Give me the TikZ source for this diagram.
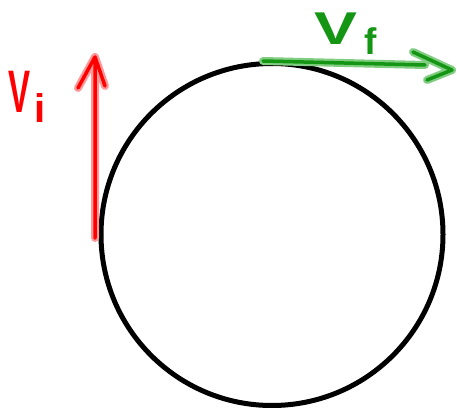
\documentclass[tikz,border=0pt]{standalone}
\usepackage{fontspec}
\setmainfont{Liberation Sans}
\begin{document}
\begin{tikzpicture}[x=1pt,y=-1pt,
  halo/.style={line width=8, line cap=round, line join=round},
  stroke/.style={line width=3.5, line cap=round, line join=round},
  lbl/.style={inner sep=0pt, anchor=base west}]
\useasboundingbox (0,0) rectangle (457,409);
\node[draw, line width=5, circle, minimum size=342, inner sep=0pt] (circ) at (272,234.5) {};
% red arrow
\coordinate (ri) at (95,238);
\coordinate (rt) at (95,57);
\coordinate (rl) at (78,88);
\coordinate (rr) at (105,86);
\draw[red!40, halo] (ri) -- (rt) (rl) -- (rt) -- (rr);
\draw[red, stroke] (ri) -- (rt) (rl) -- (rt) -- (rr);
% green arrow
\coordinate (gi) at (263,61);
\coordinate (ge) at (425,65);
\coordinate (gt) at (452,70);
\coordinate (gu) at (413,52);
\coordinate (gl) at (427,80);
\definecolor{gr}{RGB}{20,150,20}
\draw[green!60!black!50, halo] (gi) -- (ge) (gu) -- (gt) -- (gl);
\draw[gr, stroke] (gi) -- (ge) (gu) -- (gt) -- (gl);
% labels
\node[lbl, red, xscale=0.55, font=\bfseries\fontsize{60}{60}\selectfont] (vi) at (8,112) {V};
\node[lbl, red, font=\bfseries\fontsize{40}{40}\selectfont] (vis) at (34,122) {i};
\node[lbl, gr, xscale=1.4, font=\bfseries\fontsize{46}{46}\selectfont] (vf) at (314,45) {V};
\node[lbl, gr, font=\bfseries\fontsize{37}{37}\selectfont] (vfs) at (364,55) {f};
\end{tikzpicture}
\end{document}
